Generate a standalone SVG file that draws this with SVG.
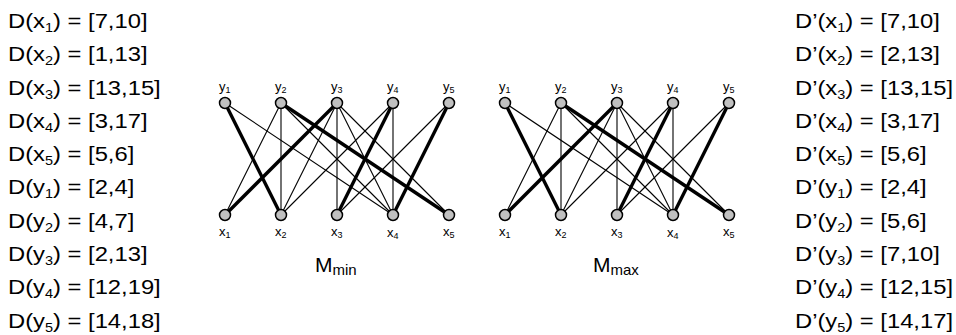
<svg xmlns="http://www.w3.org/2000/svg" width="956" height="335" viewBox="0 0 956 335">
<style>
text{font-family:"Liberation Sans",Arial,sans-serif;fill:#000}
.dom{font-size:20.5px}
.dom .s{font-size:12.5px}
.lbl{font-size:13px}
.lbl .s{font-size:9px}
.title{font-size:21px}
.title .s{font-size:15px}
.thin{stroke:#000;stroke-width:1.1;fill:none}
.thick{stroke:#000;stroke-width:3.4;fill:none}
circle.n{fill:#c0c0c0;stroke:#000;stroke-width:1.5}
</style>
<rect width="956" height="335" fill="#fff"/>
<g id="domains-left" class="dom" transform="translate(8,0) scale(1.16,1)">
<text x="0" y="28">D(x<tspan class="s" dy="4">1</tspan><tspan dy="-4">) = [7,10]</tspan></text>
<text x="0" y="61.3">D(x<tspan class="s" dy="4">2</tspan><tspan dy="-4">) = [1,13]</tspan></text>
<text x="0" y="94.6">D(x<tspan class="s" dy="4">3</tspan><tspan dy="-4">) = [13,15]</tspan></text>
<text x="0" y="127.9">D(x<tspan class="s" dy="4">4</tspan><tspan dy="-4">) = [3,17]</tspan></text>
<text x="0" y="161.2">D(x<tspan class="s" dy="4">5</tspan><tspan dy="-4">) = [5,6]</tspan></text>
<text x="0" y="194.5">D(y<tspan class="s" dy="4">1</tspan><tspan dy="-4">) = [2,4]</tspan></text>
<text x="0" y="227.8">D(y<tspan class="s" dy="4">2</tspan><tspan dy="-4">) = [4,7]</tspan></text>
<text x="0" y="261.1">D(y<tspan class="s" dy="4">3</tspan><tspan dy="-4">) = [2,13]</tspan></text>
<text x="0" y="294.4">D(y<tspan class="s" dy="4">4</tspan><tspan dy="-4">) = [12,19]</tspan></text>
<text x="0" y="327.7">D(y<tspan class="s" dy="4">5</tspan><tspan dy="-4">) = [14,18]</tspan></text>
</g>
<g id="domains-right" class="dom" transform="translate(795,0) scale(1.16,1)">
<text x="0" y="28">D’(x<tspan class="s" dy="4">1</tspan><tspan dy="-4">) = [7,10]</tspan></text>
<text x="0" y="61.3">D’(x<tspan class="s" dy="4">2</tspan><tspan dy="-4">) = [2,13]</tspan></text>
<text x="0" y="94.6">D’(x<tspan class="s" dy="4">3</tspan><tspan dy="-4">) = [13,15]</tspan></text>
<text x="0" y="127.9">D’(x<tspan class="s" dy="4">4</tspan><tspan dy="-4">) = [3,17]</tspan></text>
<text x="0" y="161.2">D’(x<tspan class="s" dy="4">5</tspan><tspan dy="-4">) = [5,6]</tspan></text>
<text x="0" y="194.5">D’(y<tspan class="s" dy="4">1</tspan><tspan dy="-4">) = [2,4]</tspan></text>
<text x="0" y="227.8">D’(y<tspan class="s" dy="4">2</tspan><tspan dy="-4">) = [5,6]</tspan></text>
<text x="0" y="261.1">D’(y<tspan class="s" dy="4">3</tspan><tspan dy="-4">) = [7,10]</tspan></text>
<text x="0" y="294.4">D’(y<tspan class="s" dy="4">4</tspan><tspan dy="-4">) = [12,15]</tspan></text>
<text x="0" y="327.7">D’(y<tspan class="s" dy="4">5</tspan><tspan dy="-4">) = [14,17]</tspan></text>
</g>
<g id="connectors-min">
<line class="thin" x1="225" y1="215" x2="281" y2="103"/>
<line class="thick" x1="225" y1="215" x2="337" y2="103"/>
<line class="thick" x1="281" y1="215" x2="225" y2="103"/>
<line class="thin" x1="281" y1="215" x2="281" y2="103"/>
<line class="thin" x1="281" y1="215" x2="337" y2="103"/>
<line class="thin" x1="281" y1="215" x2="393" y2="103"/>
<line class="thin" x1="337" y1="215" x2="337" y2="103"/>
<line class="thick" x1="337" y1="215" x2="393" y2="103"/>
<line class="thin" x1="337" y1="215" x2="449" y2="103"/>
<line class="thin" x1="393" y1="215" x2="225" y2="103"/>
<line class="thin" x1="393" y1="215" x2="281" y2="103"/>
<line class="thin" x1="393" y1="215" x2="337" y2="103"/>
<line class="thin" x1="393" y1="215" x2="393" y2="103"/>
<line class="thick" x1="393" y1="215" x2="449" y2="103"/>
<line class="thick" x1="449" y1="215" x2="281" y2="103"/>
<line class="thin" x1="449" y1="215" x2="337" y2="103"/>
</g>
<g id="connectors-max">
<line class="thin" x1="505" y1="215" x2="561" y2="103"/>
<line class="thick" x1="505" y1="215" x2="617" y2="103"/>
<line class="thick" x1="561" y1="215" x2="505" y2="103"/>
<line class="thin" x1="561" y1="215" x2="561" y2="103"/>
<line class="thin" x1="561" y1="215" x2="617" y2="103"/>
<line class="thin" x1="561" y1="215" x2="673" y2="103"/>
<line class="thin" x1="617" y1="215" x2="617" y2="103"/>
<line class="thick" x1="617" y1="215" x2="673" y2="103"/>
<line class="thin" x1="617" y1="215" x2="729" y2="103"/>
<line class="thin" x1="673" y1="215" x2="505" y2="103"/>
<line class="thin" x1="673" y1="215" x2="561" y2="103"/>
<line class="thin" x1="673" y1="215" x2="617" y2="103"/>
<line class="thin" x1="673" y1="215" x2="673" y2="103"/>
<line class="thick" x1="673" y1="215" x2="729" y2="103"/>
<line class="thick" x1="729" y1="215" x2="561" y2="103"/>
<line class="thin" x1="729" y1="215" x2="617" y2="103"/>
</g>
<g class="lbl">
<g id="min-y1"><circle class="n" cx="225" cy="103" r="5.5"/><text x="219" y="91">y<tspan class="s" dy="2">1</tspan></text></g>
<g id="min-y2"><circle class="n" cx="281" cy="103" r="5.5"/><text x="275" y="91">y<tspan class="s" dy="2">2</tspan></text></g>
<g id="min-y3"><circle class="n" cx="337" cy="103" r="5.5"/><text x="331" y="91">y<tspan class="s" dy="2">3</tspan></text></g>
<g id="min-y4"><circle class="n" cx="393" cy="103" r="5.5"/><text x="387" y="91">y<tspan class="s" dy="2">4</tspan></text></g>
<g id="min-y5"><circle class="n" cx="449" cy="103" r="5.5"/><text x="443" y="91">y<tspan class="s" dy="2">5</tspan></text></g>
<g id="min-x1"><circle class="n" cx="225" cy="215" r="5.5"/><text x="219" y="236">x<tspan class="s" dy="2">1</tspan></text></g>
<g id="min-x2"><circle class="n" cx="281" cy="215" r="5.5"/><text x="275" y="236">x<tspan class="s" dy="2">2</tspan></text></g>
<g id="min-x3"><circle class="n" cx="337" cy="215" r="5.5"/><text x="331" y="236">x<tspan class="s" dy="2">3</tspan></text></g>
<g id="min-x4"><circle class="n" cx="393" cy="215" r="5.5"/><text x="387" y="237">x<tspan class="s" dy="2">4</tspan></text></g>
<g id="min-x5"><circle class="n" cx="449" cy="215" r="5.5"/><text x="443" y="236">x<tspan class="s" dy="2">5</tspan></text></g>
<g id="max-y1"><circle class="n" cx="505" cy="103" r="5.5"/><text x="499" y="91">y<tspan class="s" dy="2">1</tspan></text></g>
<g id="max-y2"><circle class="n" cx="561" cy="103" r="5.5"/><text x="555" y="91">y<tspan class="s" dy="2">2</tspan></text></g>
<g id="max-y3"><circle class="n" cx="617" cy="103" r="5.5"/><text x="611" y="91">y<tspan class="s" dy="2">3</tspan></text></g>
<g id="max-y4"><circle class="n" cx="673" cy="103" r="5.5"/><text x="667" y="91">y<tspan class="s" dy="2">4</tspan></text></g>
<g id="max-y5"><circle class="n" cx="729" cy="103" r="5.5"/><text x="723" y="91">y<tspan class="s" dy="2">5</tspan></text></g>
<g id="max-x1"><circle class="n" cx="505" cy="215" r="5.5"/><text x="499" y="236">x<tspan class="s" dy="2">1</tspan></text></g>
<g id="max-x2"><circle class="n" cx="561" cy="215" r="5.5"/><text x="555" y="236">x<tspan class="s" dy="2">2</tspan></text></g>
<g id="max-x3"><circle class="n" cx="617" cy="215" r="5.5"/><text x="611" y="236">x<tspan class="s" dy="2">3</tspan></text></g>
<g id="max-x4"><circle class="n" cx="673" cy="215" r="5.5"/><text x="667" y="237">x<tspan class="s" dy="2">4</tspan></text></g>
<g id="max-x5"><circle class="n" cx="729" cy="215" r="5.5"/><text x="723" y="236">x<tspan class="s" dy="2">5</tspan></text></g>
</g>
<g id="title-min" class="title"><text x="315" y="272">M<tspan class="s" dy="3">min</tspan></text></g>
<g id="title-max" class="title"><text x="593" y="272">M<tspan class="s" dy="3">max</tspan></text></g>
</svg>
